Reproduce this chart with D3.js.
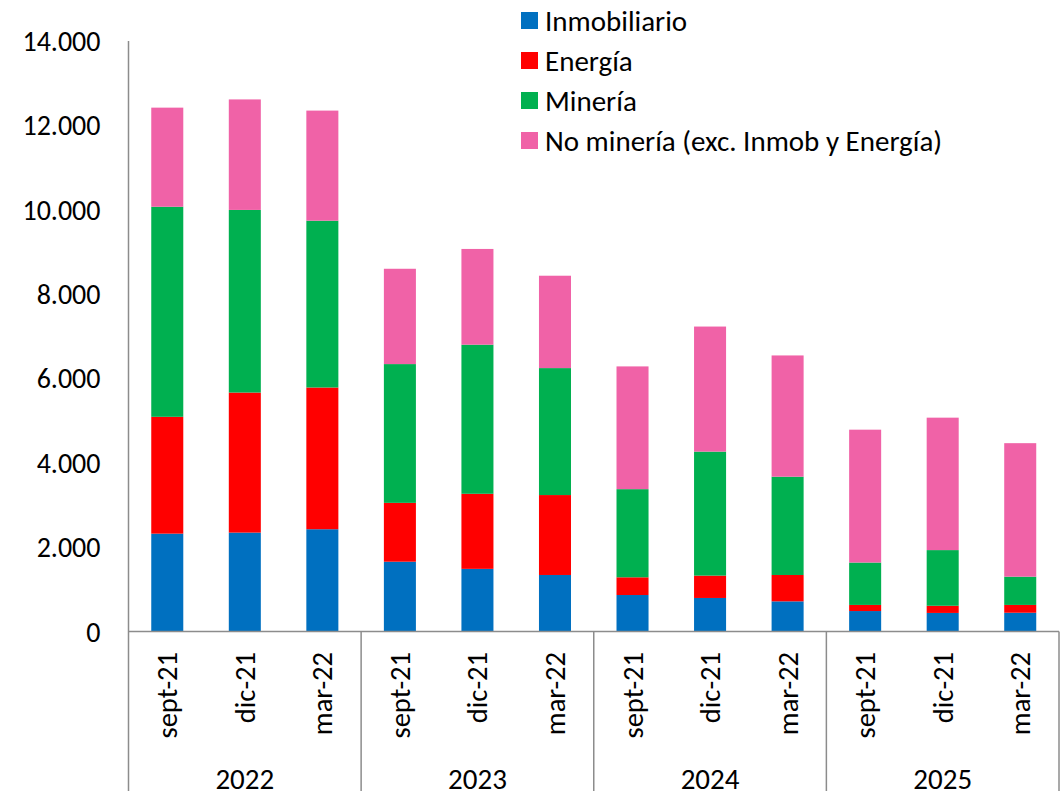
<!DOCTYPE html>
<html>
<head>
<meta charset="utf-8">
<script src="https://cdn.jsdelivr.net/npm/d3@7"></script>
<style>
  html, body { margin: 0; padding: 0; background: #ffffff; }
  svg { display: block; }
  text { font-family: Carlito, Calibri, Lato, sans-serif; fill: #000; }
</style>
</head>
<body>
<svg id="chart" width="1061" height="791"></svg>
<script>
// ---- data ----
const years = ["2022", "2023", "2024", "2025"];
const periods = ["sept-21", "dic-21", "mar-22"];
const seriesNames = ["Inmobiliario", "Energía", "Minería", "No minería (exc. Inmob y Energía)"];
const seriesColors = ["#0070C0", "#FF0000", "#00B050", "#F062A7"];
// values per bar in order: 2022 (sept-21, dic-21, mar-22), 2023 (...), 2024 (...), 2025 (...)
const inmobiliario = [2320, 2345, 2425, 1655, 1485, 1340, 865, 795, 715, 485, 440, 445];
const energia      = [2770, 3320, 3360, 1395, 1780, 1895, 420, 530, 625, 145, 170, 185];
const mineria      = [4980, 4330, 3955, 3290, 3535, 3010, 2090, 2940, 2330, 1005, 1320, 670];
const noMineria    = [2350, 2620, 2610, 2260, 2270, 2190, 2910, 2965, 2875, 3150, 3140, 3165];
const yTicks = [0, 2000, 4000, 6000, 8000, 10000, 12000, 14000];

(function () {
// ---- build table ----
const keys = ["inm", "ene", "min", "nom"];
const rows = [];
years.forEach((yr, gi) => periods.forEach((p, pi) => {
  const i = gi * periods.length + pi;
  rows.push({ id: yr + "|" + p, year: yr, period: p,
    inm: inmobiliario[i], ene: energia[i], min: mineria[i], nom: noMineria[i] });
}));

const svg = d3.select("#chart");
const L = 128.5, R = 1059, T = 41, B0 = 631.5, BOT = 791;

const y = d3.scaleLinear().domain([0, 14000]).range([B0, T]);
const x = d3.scaleBand().domain(rows.map(d => d.id)).range([L, R])
  .paddingInner(0.587).paddingOuter(0.2935);
const xg = d3.scaleBand().domain(years).range([L, R]).padding(0);

const stack = d3.stack().keys(keys)(rows);

svg.append("g").selectAll("g").data(stack).join("g")
  .attr("fill", (d, i) => seriesColors[i])
  .selectAll("rect").data(d => d).join("rect")
  .attr("x", d => x(d.data.id))
  .attr("width", x.bandwidth())
  .attr("y", d => y(d[1]))
  .attr("height", d => y(d[0]) - y(d[1]));

// y axis
const axisColor = "#8c8c8c";
const yAxis = svg.append("g").attr("transform", `translate(${L},0)`)
  .call(d3.axisLeft(y).tickValues(yTicks).tickSize(0).tickPadding(28)
    .tickFormat(d => d3.format(",")(d).replace(/,/g, ".")));
yAxis.select(".domain").remove();
yAxis.selectAll("text").style("font-size", "28px").attr("dy", "0.34em")
  .style("font-family", "Carlito, Calibri, Lato, sans-serif").attr("fill", "#000");

svg.append("line").attr("x1", L).attr("x2", L).attr("y1", T).attr("y2", BOT)
  .attr("stroke", axisColor).attr("stroke-width", 1.5);
svg.append("line").attr("x1", L).attr("x2", R).attr("y1", B0).attr("y2", B0)
  .attr("stroke", axisColor).attr("stroke-width", 1.5);

// group separators
svg.append("g").selectAll("line").data(years).join("line")
  .attr("x1", d => xg(d) + xg.bandwidth()).attr("x2", d => xg(d) + xg.bandwidth())
  .attr("y1", B0).attr("y2", BOT)
  .attr("stroke", axisColor).attr("stroke-width", 1.5);

// period labels
svg.append("g").selectAll("text").data(rows).join("text")
  .attr("transform", d => `translate(${x(d.id) + x.bandwidth() / 2},652) rotate(-90)`)
  .attr("text-anchor", "end").attr("dy", "0.35em")
  .style("font-size", "28.5px")
  .text(d => d.period);

// year labels
svg.append("g").selectAll("text").data(years).join("text")
  .attr("x", d => xg(d) + xg.bandwidth() / 2).attr("y", 789)
  .attr("text-anchor", "middle").style("font-size", "29px")
  .text(d => d);

// legend
const lg = svg.append("g").selectAll("g").data(seriesNames).join("g")
  .attr("transform", (d, i) => `translate(521,${20.5 + i * 40})`);
lg.append("rect").attr("x", 0).attr("y", -8.5).attr("width", 17).attr("height", 17)
  .attr("fill", (d, i) => seriesColors[i]);
lg.append("text").attr("x", 24).attr("dy", "0.35em").style("font-size", "29px").text(d => d);
})();
</script>
</body>
</html>
